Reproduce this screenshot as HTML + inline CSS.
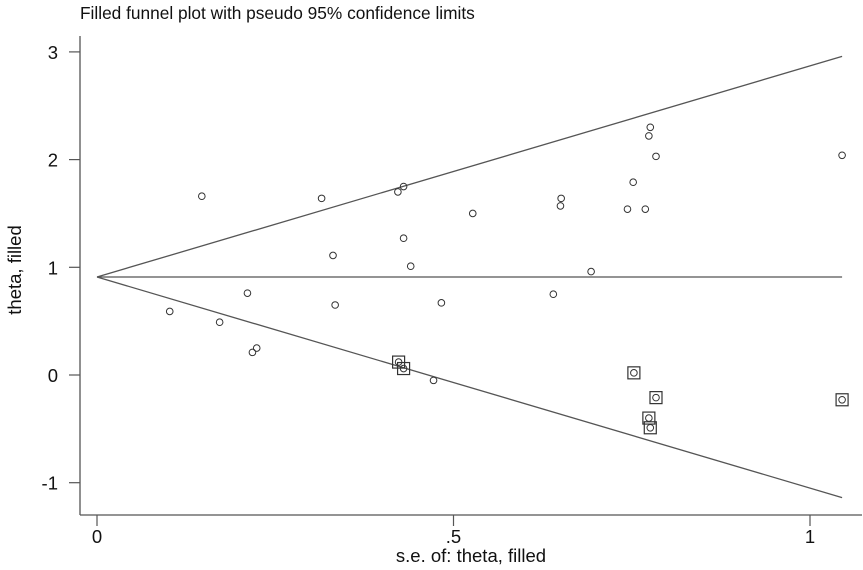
<!DOCTYPE html>
<html><head><meta charset="utf-8"><style>
html,body{margin:0;padding:0;background:#fff;}
svg{display:block;font-family:"Liberation Sans",Arial,sans-serif;}
</style></head><body>
<svg id="chart" width="863" height="570" viewBox="0 0 863 570"></svg>
<script>
const theta0 = 0.91;
const seMax = 1.045;
const xTicks = [0, 0.5, 1];
const xTickLabels = ["0", ".5", "1"];
const yTicks = [-1, 0, 1, 2, 3];
const yTickLabels = ["-1", "0", "1", "2", "3"];
const obsSE = [.147,.102,.172,.211,.218,.224,.315,.331,.334,.422,.43,.43,.44,.483,.527,.472,.64,.651,.65,.693,.744,.752,.769,.776,.774,.784,1.045];
const obsTheta = [1.66,.59,.49,.76,.21,.25,1.64,1.11,.65,1.70,1.75,1.27,1.01,.67,1.50,-.05,.75,1.64,1.57,.96,1.54,1.79,1.54,2.30,2.22,2.03,2.04];
const fillSE = [.423,.43,.753,.784,.774,.776,1.045];
const fillTheta = [.12,.06,.02,-.21,-.40,-.49,-.23];

const NS = "http://www.w3.org/2000/svg";
const svg = document.getElementById("chart");
const xS = v => 97 + v * 713;
const yS = v => 375 - v * 107.7;
function mk(tag, attrs, parent) {
  const e = document.createElementNS(NS, tag);
  for (const k in attrs) e.setAttribute(k, attrs[k]);
  (parent || svg).appendChild(e);
  return e;
}
const st = "#555";
let t = mk("text", {x: 80, y: 19, "font-size": 17.3, fill: "#111"});
t.textContent = "Filled funnel plot with pseudo 95% confidence limits";


let ax = mk("line", {x1: 80, y1: 36, x2: 80, y2: 515, stroke: st, "stroke-width": 1.3});


let bx = mk("line", {x1: 80, y1: 515, x2: 862, y2: 515, stroke: st, "stroke-width": 1.3});


yTicks.forEach((v, i) => {
  const y = yS(v);
  let l = mk("line", {x1: 69, y1: y, x2: 80, y2: y, stroke: st, "stroke-width": 1.2});
  
  
  let tx = mk("text", {x: 58, y: y + 7, "font-size": 18.5, "text-anchor": "end", fill: "#111"});
  tx.textContent = yTickLabels[i];
  
  
});
xTicks.forEach((v, i) => {
  const x = xS(v);
  let l = mk("line", {x1: x, y1: 515, x2: x, y2: 526, stroke: st, "stroke-width": 1.2});
  
  
  let tx = mk("text", {x: x, y: 543, "font-size": 18.5, "text-anchor": "middle", fill: "#111"});
  tx.textContent = xTickLabels[i];
  
  
});
let xt = mk("text", {x: 471, y: 562, "font-size": 18.5, "text-anchor": "middle", fill: "#111"});
xt.textContent = "s.e. of: theta, filled";


let yt = mk("text", {x: 21, y: 270, "font-size": 18.5, "text-anchor": "middle", fill: "#111", transform: "rotate(-90 21 270)"});
yt.textContent = "theta, filled";


let cl = mk("line", {x1: xS(0), y1: yS(theta0), x2: xS(seMax), y2: yS(theta0), stroke: st, "stroke-width": 1.3});


let ul = mk("line", {x1: xS(0), y1: yS(theta0), x2: xS(seMax), y2: yS(theta0 + 1.96 * seMax), stroke: st, "stroke-width": 1.3});


let ll = mk("line", {x1: xS(0), y1: yS(theta0), x2: xS(seMax), y2: yS(theta0 - 1.96 * seMax), stroke: st, "stroke-width": 1.3});


obsSE.forEach((s, i) => {
  let c = mk("circle", {cx: xS(s), cy: yS(obsTheta[i]), r: 3.3, fill: "none", stroke: "#333", "stroke-width": 1});
  
  
});
fillSE.forEach((s, i) => {
  const x = xS(s), y = yS(fillTheta[i]);
  let r = mk("rect", {x: x - 6, y: y - 6, width: 12, height: 12, fill: "none", stroke: "#333", "stroke-width": 1.2});
  
  
  let c = mk("circle", {cx: x, cy: y, r: 3.3, fill: "none", stroke: "#333", "stroke-width": 1});
  
  
});
</script>
</body></html>
